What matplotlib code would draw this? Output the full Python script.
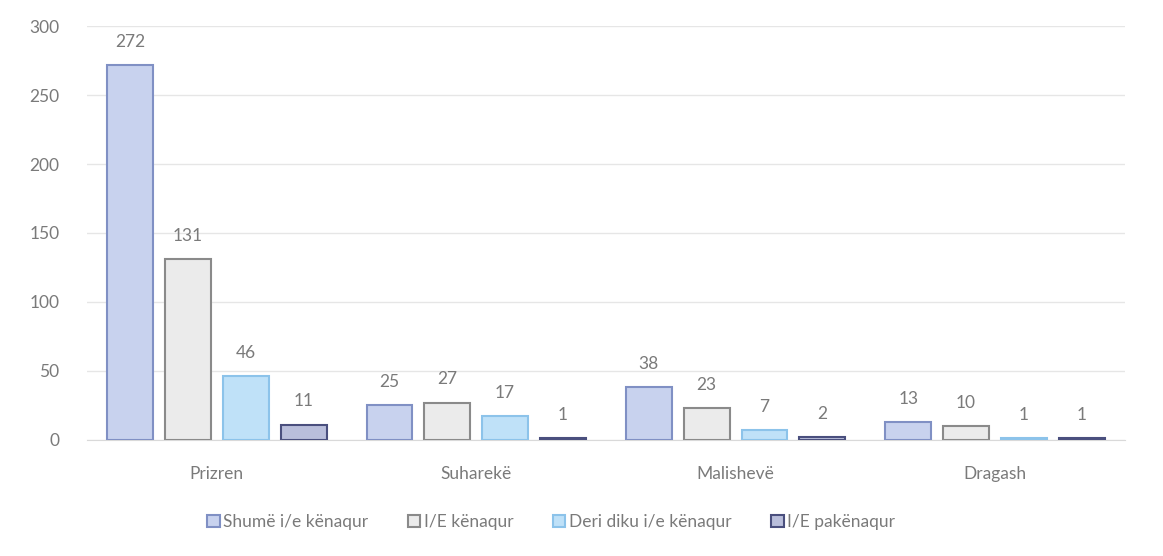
import matplotlib.pyplot as plt
import numpy as np

categories = ["Prizren", "Suharekë", "Malishevë", "Dragash"]
series_names = ["Shumë i/e kënaqur", "I/E kënaqur", "Deri diku i/e kënaqur", "I/E pakënaqur"]
shume = [272, 25, 38, 13]
kenaqur = [131, 27, 23, 10]
deri_diku = [46, 17, 7, 1]
pakenaqur = [11, 1, 2, 1]
yticks = [0, 50, 100, 150, 200, 250, 300]

series = [shume, kenaqur, deri_diku, pakenaqur]
fills = ["#c8d2ee", "#ebebeb", "#bfe1f8", "#b9bedb"]
edges = ["#8090c4", "#8a8a8a", "#8cc3ea", "#4a4f7e"]
txtc = '#7a7a7a'

plt.rcParams['font.family'] = ['Lato', 'DejaVu Sans']
fig = plt.figure(figsize=(11.63, 5.56), dpi=100)
ax = fig.add_axes([0.075, 0.209, 0.892, 0.744])

x = np.arange(len(categories))
step = 0.223
width = 0.177
for i, (vals, fc, ec, name) in enumerate(zip(series, fills, edges, series_names)):
    pos = x + (i - 1.5) * step
    bars = ax.bar(pos, vals, width, color=fc, edgecolor=ec, linewidth=1.5, label=name, zorder=3)
    for b, v in zip(bars, vals):
        ax.text(b.get_x() + b.get_width() / 2, v + 11, str(v), ha='center', va='bottom',
                fontsize=12.5, color=txtc, zorder=4)

ax.set_xlim(-0.5, len(categories) - 0.5)
ax.set_ylim(0, 300)
ax.set_yticks(yticks)
ax.set_xticks(x)
ax.set_xticklabels(categories)
ax.tick_params(axis='both', length=0, labelsize=12.5, colors=txtc)
ax.tick_params(axis='x', pad=19)
ax.tick_params(axis='y', pad=20)
ax.grid(axis='y', color='#e6e6e6', linewidth=1, zorder=0)
for s in ['top', 'right', 'left']:
    ax.spines[s].set_visible(False)
ax.spines['bottom'].set_color('#d9d9d9')

leg = fig.legend(loc='center', bbox_to_anchor=(0.474, 0.061), ncol=4, frameon=False,
                 fontsize=12.5, handlelength=0.7, handleheight=0.7, handletextpad=0.2,
                 columnspacing=2.3)
for t in leg.get_texts():
    t.set_color(txtc)

fig.savefig('out.png', dpi=100, facecolor='white')
